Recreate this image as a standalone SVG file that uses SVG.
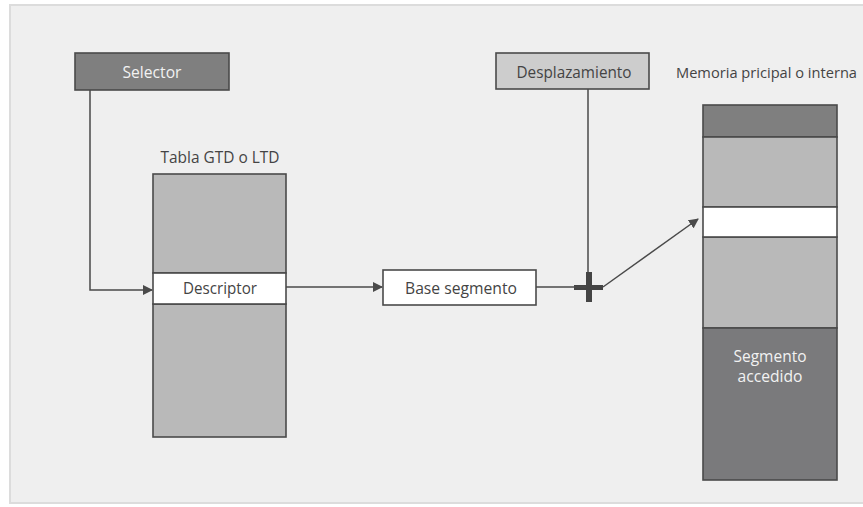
<svg xmlns="http://www.w3.org/2000/svg" width="863" height="507" viewBox="0 0 863 507">
<defs>
<style>
.t{font-family:"Open Sans","Noto Sans","Liberation Sans",sans-serif;font-size:17px;fill:#444;}
.s{font-size:15.5px;}
.m{font-size:15px;}
.w{fill:#f2f2f2;}
.b{stroke:#4a4a4a;stroke-width:1.6;}
.c{fill:none;stroke:#4a4a4a;stroke-width:1.5;}
</style>
<marker id="ah" viewBox="0 0 10 10" refX="9" refY="5" markerWidth="10" markerHeight="10" markerUnits="userSpaceOnUse" orient="auto">
<path d="M0,0 L10,5 L0,10 Z" fill="#4a4a4a"/>
</marker>
</defs>
<rect x="0" y="0" width="863" height="507" fill="#ffffff"/>
<rect x="10" y="5" width="860" height="498" fill="#efefef" stroke="#dcdcdc" stroke-width="2"/>

<g id="selector">
<rect class="b" x="75" y="53" width="154" height="37" fill="#7f7f7f"/>
<text class="t w" x="152" y="78" text-anchor="middle" textLength="59" lengthAdjust="spacingAndGlyphs">Selector</text>
</g>

<g id="desplazamiento">
<rect class="b" x="496" y="53" width="153" height="36" fill="#cdcdcd"/>
<text class="t" x="574" y="78" text-anchor="middle" textLength="115" lengthAdjust="spacingAndGlyphs">Desplazamiento</text>
</g>

<g id="tabla">
<text class="t" x="220" y="163" text-anchor="middle" textLength="119" lengthAdjust="spacingAndGlyphs">Tabla GTD o LTD</text>
<rect class="b" x="153" y="174" width="133" height="99" fill="#b9b9b9"/>
<rect class="b" x="153" y="304" width="133" height="133" fill="#b9b9b9"/>
</g>

<g id="descriptor">
<rect class="b" x="153" y="273" width="133" height="31" fill="#ffffff"/>
<text class="t" x="220" y="294" text-anchor="middle" textLength="74" lengthAdjust="spacingAndGlyphs">Descriptor</text>
</g>

<g id="base">
<rect class="b" x="383" y="270" width="153" height="35" fill="#ffffff"/>
<text class="t" x="461" y="294" text-anchor="middle" textLength="112" lengthAdjust="spacingAndGlyphs">Base segmento</text>
</g>

<g id="sumador">
<rect x="586" y="272" width="6" height="30" fill="#444"/>
<rect x="574" y="285" width="29" height="5" fill="#444"/>
</g>

<g id="memoria">
<text class="t m" x="676" y="78" textLength="181" lengthAdjust="spacingAndGlyphs">Memoria pricipal o interna</text>
<rect class="b" x="703" y="105" width="134" height="32" fill="#7f7f7f"/>
<rect class="b" x="703" y="137" width="134" height="70" fill="#b9b9b9"/>
<rect class="b" x="703" y="237" width="134" height="91" fill="#b9b9b9"/>
</g>

<g id="linea">
<rect class="b" x="703" y="207" width="134" height="30" fill="#ffffff"/>
</g>

<g id="segmento">
<rect class="b" x="703" y="328" width="134" height="152" fill="#7a7a7c"/>
<text class="t s w" x="770" y="362" text-anchor="middle" textLength="73" lengthAdjust="spacingAndGlyphs">Segmento</text>
<text class="t s w" x="770" y="382" text-anchor="middle" textLength="65" lengthAdjust="spacingAndGlyphs">accedido</text>
</g>

<g id="connectors">
<path class="c" d="M90,90 V290 H152" marker-end="url(#ah)"/>
<path class="c" d="M286,287 H382" marker-end="url(#ah)"/>
<path class="c" d="M536,287 H586"/>
<path class="c" d="M588,89 V272"/>
<path class="c" d="M603,287 L698,219" marker-end="url(#ah)"/>
</g>
</svg>
